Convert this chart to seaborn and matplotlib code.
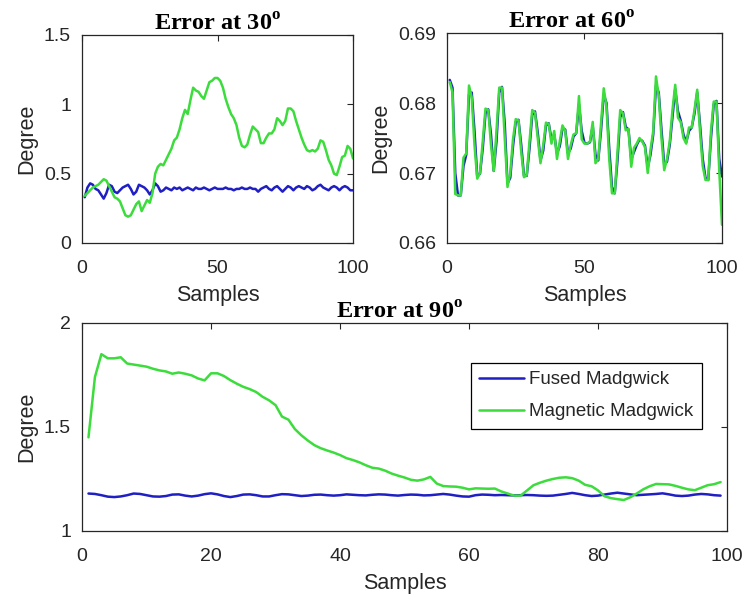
import numpy as np
import pandas as pd
import matplotlib
matplotlib.use("Agg")
import matplotlib.pyplot as plt
from matplotlib.ticker import FuncFormatter
import seaborn as sns

# ---------------- data ----------------
series_names = ["Fused Madgwick", "Magnetic Madgwick"]
titles = [r"Error at 30$^{\mathbf{o}}$", r"Error at 60$^{\mathbf{o}}$", r"Error at 90$^{\mathbf{o}}$"]

fused_30 = [0.33, 0.40, 0.43, 0.42, 0.39, 0.38, 0.35, 0.32, 0.36, 0.42,
            0.41, 0.37, 0.36, 0.38, 0.40, 0.41, 0.42, 0.39, 0.35, 0.37,
            0.42, 0.41, 0.40, 0.38, 0.35, 0.38, 0.43, 0.41, 0.37, 0.38,
            0.40, 0.39, 0.38, 0.40, 0.39, 0.40, 0.38, 0.39, 0.40, 0.39,
            0.38, 0.40, 0.39, 0.39, 0.40, 0.39, 0.38, 0.39, 0.40, 0.39,
            0.39, 0.39, 0.40, 0.39, 0.39, 0.38, 0.39, 0.39, 0.40, 0.39,
            0.39, 0.40, 0.39, 0.39, 0.37, 0.39, 0.40, 0.41, 0.39, 0.38,
            0.40, 0.41, 0.39, 0.37, 0.39, 0.41, 0.40, 0.38, 0.40, 0.41,
            0.40, 0.39, 0.41, 0.40, 0.38, 0.39, 0.41, 0.42, 0.40, 0.39,
            0.38, 0.40, 0.41, 0.40, 0.38, 0.40, 0.41, 0.40, 0.38, 0.38]
magnetic_30 = [0.34, 0.36, 0.38, 0.40, 0.41, 0.42, 0.44, 0.46, 0.45, 0.41,
               0.37, 0.33, 0.32, 0.30, 0.25, 0.20, 0.19, 0.20, 0.24, 0.28,
               0.30, 0.23, 0.27, 0.31, 0.29, 0.36, 0.50, 0.55, 0.57, 0.56,
               0.60, 0.64, 0.68, 0.74, 0.76, 0.82, 0.90, 0.96, 0.93, 1.03,
               1.12, 1.10, 1.09, 1.06, 1.04, 1.10, 1.16, 1.17, 1.19, 1.19,
               1.17, 1.12, 1.04, 0.98, 0.93, 0.90, 0.85, 0.76, 0.70, 0.69,
               0.71, 0.78, 0.84, 0.82, 0.80, 0.72, 0.72, 0.76, 0.79, 0.79,
               0.82, 0.90, 0.88, 0.85, 0.88, 0.97, 0.97, 0.95, 0.88, 0.82,
               0.76, 0.71, 0.67, 0.66, 0.67, 0.66, 0.68, 0.74, 0.73, 0.67,
               0.60, 0.56, 0.50, 0.49, 0.55, 0.62, 0.63, 0.70, 0.68, 0.61]

fused_60 = [0.6833, 0.6822, 0.6700, 0.6668, 0.6668, 0.6710, 0.6726, 0.6812, 0.6815, 0.6760,
            0.6695, 0.6699, 0.6735, 0.6785, 0.6791, 0.6755, 0.6703, 0.6745, 0.6815, 0.6823,
            0.6770, 0.6685, 0.6693, 0.6738, 0.6773, 0.6776, 0.6740, 0.6696, 0.6696, 0.6735,
            0.6783, 0.6788, 0.6758, 0.6718, 0.6732, 0.6768, 0.6771, 0.6748, 0.6755, 0.6728,
            0.6738, 0.6764, 0.6762, 0.6728, 0.6735, 0.6752, 0.6757, 0.6798, 0.6760, 0.6743,
            0.6742, 0.6744, 0.6767, 0.6726, 0.6718, 0.6760, 0.6812, 0.6800, 0.6735, 0.6680,
            0.6671, 0.6718, 0.6780, 0.6787, 0.6766, 0.6762, 0.6720, 0.6730, 0.6740, 0.6748,
            0.6746, 0.6739, 0.6708, 0.6726, 0.6755, 0.6825, 0.6815, 0.6762, 0.6712, 0.6716,
            0.6740, 0.6780, 0.6820, 0.6788, 0.6775, 0.6755, 0.6744, 0.6760, 0.6765, 0.6785,
            0.6815, 0.6770, 0.6720, 0.6693, 0.6690, 0.6750, 0.6798, 0.6803, 0.6720, 0.6695]
magnetic_60 = [0.6830, 0.6815, 0.6670, 0.6668, 0.6668, 0.6722, 0.6728, 0.6825, 0.6808, 0.6740,
               0.6692, 0.6700, 0.6745, 0.6792, 0.6790, 0.6740, 0.6703, 0.6760, 0.6822, 0.6822,
               0.6750, 0.6680, 0.6700, 0.6748, 0.6777, 0.6775, 0.6730, 0.6694, 0.6697, 0.6745,
               0.6790, 0.6786, 0.6750, 0.6714, 0.6740, 0.6772, 0.6770, 0.6742, 0.6760, 0.6720,
               0.6745, 0.6768, 0.6760, 0.6720, 0.6740, 0.6755, 0.6757, 0.6810, 0.6748, 0.6742,
               0.6742, 0.6745, 0.6773, 0.6714, 0.6720, 0.6770, 0.6821, 0.6795, 0.6720, 0.6671,
               0.6671, 0.6730, 0.6790, 0.6785, 0.6761, 0.6763, 0.6709, 0.6736, 0.6742, 0.6750,
               0.6745, 0.6737, 0.6700, 0.6733, 0.6760, 0.6838, 0.6810, 0.6750, 0.6704, 0.6720,
               0.6745, 0.6790, 0.6826, 0.6779, 0.6773, 0.6750, 0.6742, 0.6765, 0.6765, 0.6790,
               0.6819, 0.6760, 0.6710, 0.6690, 0.6690, 0.6760, 0.6802, 0.6802, 0.6704, 0.6626]

fused_90 = [1.180, 1.178, 1.172, 1.165, 1.163, 1.166, 1.172, 1.180, 1.178, 1.172,
            1.166, 1.165, 1.168, 1.175, 1.176, 1.170, 1.166, 1.170, 1.177, 1.181,
            1.176, 1.168, 1.163, 1.168, 1.175, 1.176, 1.172, 1.166, 1.166, 1.172,
            1.177, 1.176, 1.172, 1.168, 1.170, 1.174, 1.175, 1.172, 1.170, 1.172,
            1.176, 1.174, 1.172, 1.171, 1.174, 1.176, 1.175, 1.172, 1.170, 1.173,
            1.175, 1.174, 1.171, 1.172, 1.175, 1.178, 1.175, 1.170, 1.166, 1.165,
            1.172, 1.175, 1.174, 1.172, 1.173, 1.172, 1.171, 1.172, 1.173, 1.172,
            1.170, 1.169, 1.170, 1.174, 1.178, 1.183, 1.178, 1.172, 1.168, 1.170,
            1.175, 1.180, 1.184, 1.180, 1.176, 1.172, 1.174, 1.176, 1.178, 1.181,
            1.176, 1.170, 1.168, 1.170, 1.175, 1.178, 1.176, 1.172, 1.170]
magnetic_90 = [1.450, 1.740, 1.850, 1.830, 1.830, 1.835, 1.805, 1.800, 1.795, 1.790,
               1.780, 1.772, 1.767, 1.756, 1.762, 1.756, 1.748, 1.733, 1.724, 1.758,
               1.758, 1.745, 1.725, 1.708, 1.693, 1.682, 1.668, 1.645, 1.628, 1.605,
               1.550, 1.535, 1.490, 1.460, 1.435, 1.413, 1.398, 1.387, 1.377, 1.365,
               1.350, 1.341, 1.330, 1.316, 1.304, 1.300, 1.290, 1.276, 1.266, 1.257,
               1.246, 1.242, 1.248, 1.260, 1.228, 1.216, 1.214, 1.213, 1.208, 1.200,
               1.205, 1.204, 1.203, 1.204, 1.190, 1.180, 1.170, 1.170, 1.195, 1.220,
               1.232, 1.242, 1.250, 1.256, 1.258, 1.254, 1.242, 1.222, 1.215, 1.195,
               1.167, 1.158, 1.153, 1.149, 1.162, 1.180, 1.200, 1.215, 1.226, 1.225,
               1.224, 1.217, 1.208, 1.200, 1.196, 1.208, 1.220, 1.225, 1.235]

x_ticks_top = [0, 50, 100]
y_ticks_30 = [0, 0.5, 1, 1.5]
y_ticks_60 = [0.66, 0.67, 0.68, 0.69]
x_ticks_90 = [0, 20, 40, 60, 80, 100]
y_ticks_90 = [1, 1.5, 2]

# ---------------- styling ----------------
sns.set_theme(style="white")
plt.rcParams["font.family"] = ["Liberation Sans", "DejaVu Sans"]
plt.rcParams["mathtext.fontset"] = "custom"
plt.rcParams["mathtext.bf"] = "Liberation Serif:bold"
plt.rcParams["mathtext.rm"] = "Liberation Serif:bold"

BLUE = "#1f1fc4"
GREEN = "#3cdc3c"
palette = {series_names[0]: BLUE, series_names[1]: GREEN}
TICK_COLOR = "#262626"


def make_df(fused, magnetic):
    rows = []
    for name, vals in zip(series_names, [fused, magnetic]):
        s = np.arange(1, len(vals) + 1)
        rows.append(pd.DataFrame({"Samples": s, "Degree": vals, "series": name}))
    return pd.concat(rows, ignore_index=True)


fig = plt.figure(figsize=(7.43, 5.95), dpi=100)
ax1 = fig.add_axes([0.1104, 0.5916, 0.3647, 0.3496])
ax2 = fig.add_axes([0.6016, 0.5916, 0.3701, 0.3529])
ax3 = fig.add_axes([0.1104, 0.1076, 0.8681, 0.3496])

specs = [
    (ax1, make_df(fused_30, magnetic_30), x_ticks_top, y_ticks_30, (0, 100), (0, 1.5), titles[0], 0.5),
    (ax2, make_df(fused_60, magnetic_60), x_ticks_top, y_ticks_60, (0, 100), (0.66, 0.69), titles[1], 0.455),
    (ax3, make_df(fused_90, magnetic_90), x_ticks_90, y_ticks_90, (0, 100), (1, 2), titles[2], 0.493),
]

fmt = FuncFormatter(lambda v, p: f"{v:g}")

for ax, df, xt, yt, xl, yl, title, tx in specs:
    sns.lineplot(data=df, x="Samples", y="Degree", hue="series", palette=palette,
                 hue_order=series_names, linewidth=1.8, errorbar=None, ax=ax,
                 legend=(ax is ax3))
    ax.set_xlim(*xl)
    ax.set_ylim(*yl)
    ax.set_xticks(xt)
    ax.set_yticks(yt)
    ax.xaxis.set_major_formatter(fmt)
    ax.yaxis.set_major_formatter(fmt)
    ax.tick_params(direction="in", length=4, width=0.8, top=True, right=True,
                   labelsize=14, labelcolor=TICK_COLOR, color=TICK_COLOR)
    ax.tick_params(axis="x", pad=12)
    ax.tick_params(axis="y", pad=8)
    for sp in ax.spines.values():
        sp.set_color(TICK_COLOR)
        sp.set_linewidth(0.9)
    ax.set_xlabel("Samples", fontsize=15.5, color=TICK_COLOR, labelpad=6)
    ax.set_ylabel("Degree", fontsize=15.5, color=TICK_COLOR, labelpad=5)
    ax.set_title(title, fontsize=17.5, fontweight="bold", family="Liberation Serif",
                 color="black", x=tx, pad=3)

leg = ax3.legend(loc="upper right", bbox_to_anchor=(0.961, 0.809), fontsize=13.5,
                 frameon=True, fancybox=False, edgecolor="black", framealpha=1,
                 handlelength=2.4, handletextpad=0.25, borderpad=0.45,
                 labelspacing=0.8, borderaxespad=0)
leg.get_frame().set_linewidth(0.9)
for line in leg.get_lines():
    line.set_linewidth(1.8)

fig.savefig("out.png", dpi=100)
